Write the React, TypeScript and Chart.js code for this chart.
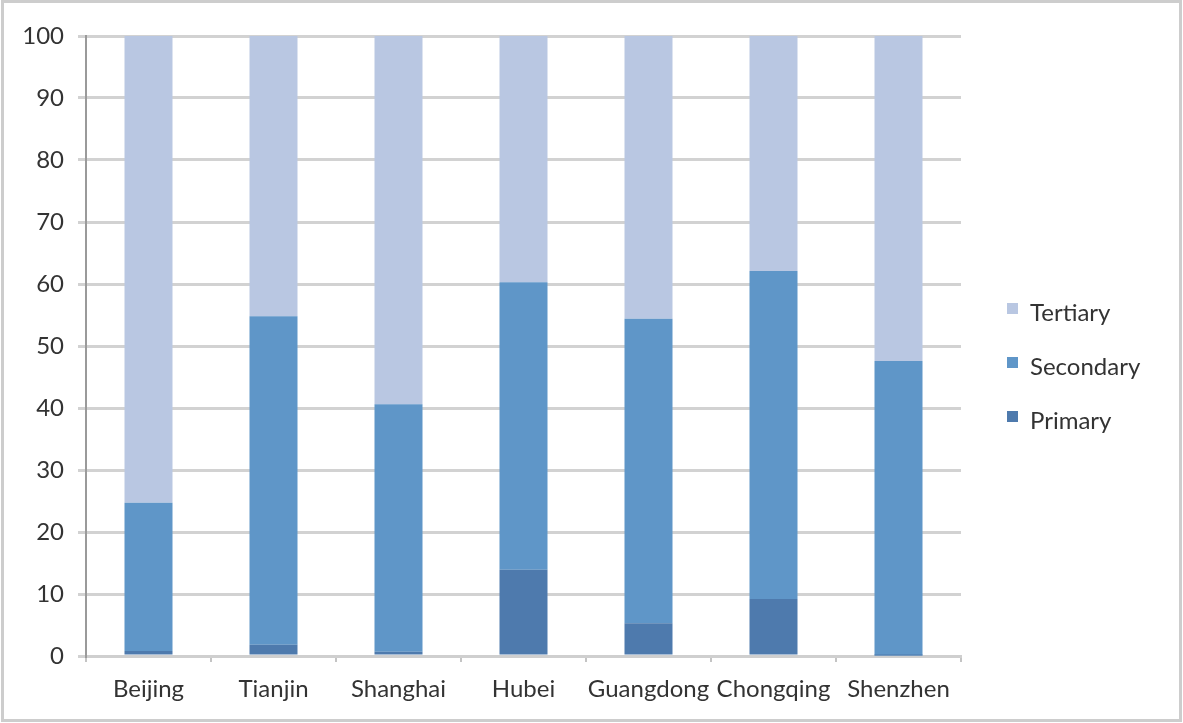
import React, { useEffect, useRef } from "react";
import { Chart, registerables } from "chart.js";

Chart.register(...registerables);

// Share of output by sector (%)
const regions = ["Beijing", "Tianjin", "Shanghai", "Hubei", "Guangdong", "Chongqing", "Shenzhen"];
const primary = [0.8, 1.8, 0.7, 13.9, 5.3, 9.2, 0.1];
const secondary = [23.9, 53.0, 39.9, 46.4, 49.1, 52.9, 47.5];
const tertiary = [75.3, 45.2, 59.4, 39.7, 45.6, 37.9, 52.4];
const yTicks = [0, 10, 20, 30, 40, 50, 60, 70, 80, 90, 100];

const FONT = "Lato";
const FONT_SIZE = 24;
const TEXT = "#333333";

// Legend drawn on the right side, top entry being the last stacked series
const sideLegend = {
  id: "sideLegend",
  afterDraw(chart: Chart) {
    const { ctx } = chart;
    const items = [...chart.data.datasets].reverse();
    ctx.save();
    ctx.font = `${FONT_SIZE}px ${FONT}`;
    ctx.textBaseline = "middle";
    ctx.textAlign = "left";
    items.forEach((ds, i) => {
      const y = 313 + i * 54;
      ctx.fillStyle = ds.backgroundColor as string;
      ctx.fillRect(1007, y - 10, 11, 11);
      ctx.fillStyle = TEXT;
      ctx.fillText(ds.label as string, 1030, y);
    });
    ctx.restore();
  },
};

export default function App() {
  const canvasRef = useRef<HTMLCanvasElement>(null);

  useEffect(() => {
    document.body.style.margin = "0";
    const canvas = canvasRef.current!;
    const chart = new Chart(canvas, {
      type: "bar",
      data: {
        labels: regions,
        datasets: [
          { label: "Primary", data: primary, backgroundColor: "#4E7AAD" },
          { label: "Secondary", data: secondary, backgroundColor: "#5F96C8" },
          { label: "Tertiary", data: tertiary, backgroundColor: "#B9C7E2" },
        ],
      },
      options: {
        responsive: false,
        animation: false,
        devicePixelRatio: 1,
        layout: { padding: { top: 36, left: 0, right: 222, bottom: 0 } },
        datasets: {
          bar: { barPercentage: 0.384, categoryPercentage: 1, borderWidth: 0 },
        },
        plugins: {
          legend: { display: false },
          tooltip: { enabled: false },
        },
        scales: {
          x: {
            stacked: true,
            offset: true,
            afterFit: (s: any) => {
              s.height = 67;
            },
            grid: {
              display: true,
              offset: true,
              drawOnChartArea: false,
              tickLength: 6,
              color: "#c4c4c4",
              lineWidth: 2,
            },
            border: { display: true, color: "#cfcfcf", width: 3 },
            ticks: {
              color: TEXT,
              font: { family: FONT, size: FONT_SIZE },
              padding: 13,
              maxRotation: 0,
              autoSkip: false,
            },
          },
          y: {
            stacked: true,
            min: 0,
            max: 100,
            afterFit: (s: any) => {
              s.width = 86;
            },
            afterBuildTicks: (s: any) => {
              s.ticks = yTicks.map((v) => ({ value: v }));
            },
            grid: {
              color: "#d2d2d2",
              lineWidth: 3,
              tickLength: 8,
            },
            border: { display: true, color: "#9a9a9a", width: 2 },
            ticks: {
              color: TEXT,
              font: { family: FONT, size: FONT_SIZE },
              padding: 14,
            },
          },
        },
      },
      plugins: [sideLegend],
    });
    return () => chart.destroy();
  }, []);

  return (
    <div
      style={{
        position: "absolute",
        left: 0,
        top: 0,
        width: 1183,
        height: 723,
        background: "#fff",
      }}
    >
      <canvas ref={canvasRef} width={1183} height={723} style={{ display: "block" }} />
      <div
        style={{
          position: "absolute",
          left: 1,
          top: 0,
          width: 1181,
          height: 722,
          boxSizing: "border-box",
          border: "3px solid #cdcdcd",
          pointerEvents: "none",
        }}
      />
    </div>
  );
}
